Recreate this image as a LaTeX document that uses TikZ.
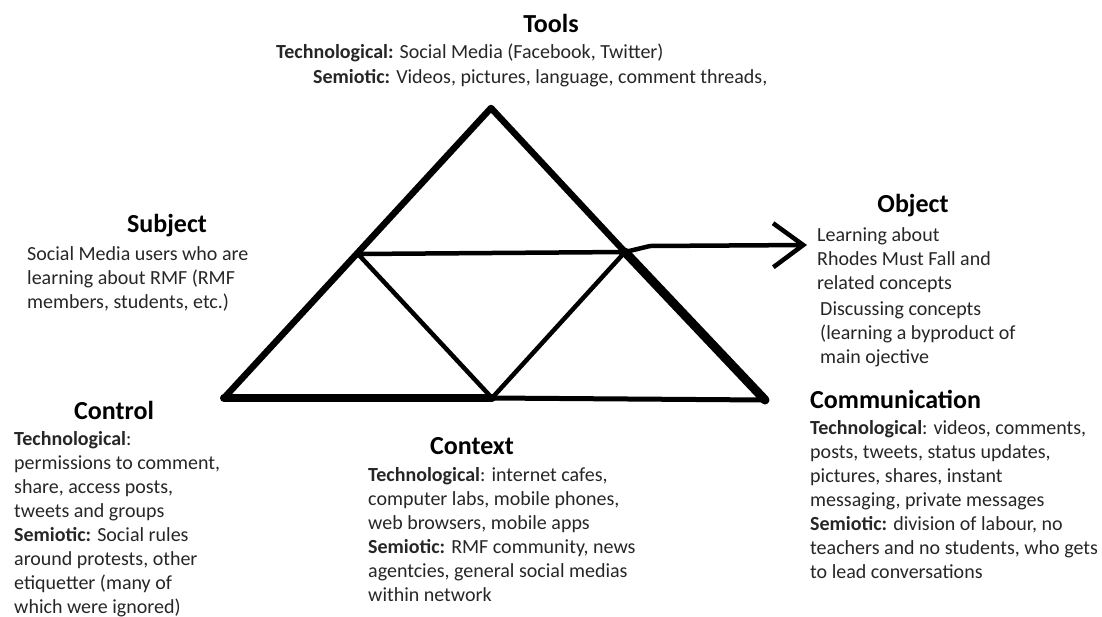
\documentclass[tikz,border=0pt]{standalone}
\usepackage{fontspec}
\setmainfont{Carlito}
\usetikzlibrary{arrows.meta}
\usetikzlibrary{positioning}

\tikzset{
  heading/.style = {font=\fontsize{26}{30}\selectfont\bfseries, inner sep=0pt},
  blocktext/.style = {font=\fontsize{20}{24}\selectfont, align=left, inner sep=0pt, anchor=north west, text=black!85},
  outer/.style = {line width=6.5pt, line cap=round, line join=round},
  inner/.style = {line width=4.5pt, line cap=round}
}

\begin{document}
\begin{tikzpicture}[x=1pt, y=-1pt]
\useasboundingbox (0,0) rectangle (1102,616);

% corners of the triangle
\coordinate (Tools) at (491,108);
\coordinate (Subj) at (358,254);
\coordinate (Obj) at (625,252);
\coordinate (Ctrl) at (224,398);
\coordinate (Ctx) at (492,398);
\coordinate (Comm) at (765,400);
\coordinate (Bend) at (650,246);
\coordinate (Tip) at (807,245);

% triangle
\draw[outer] (Ctrl) -- (Tools) -- (Obj);
\draw[outer, line width=9pt] (Obj) -- (Comm);
\draw[outer, line width=8pt] (Ctrl) -- (Ctx);
\draw[outer, line width=5pt] (Ctx) -- (Comm);
\draw[inner] (Subj) -- (Obj)
  (Subj) -- (Ctx) -- (Obj);
\draw[inner, line join=round, -{Straight Barb[length=30pt, width=44pt, line width=4.5pt]}] (Obj) -- (Bend) -- (Tip);

% Tools
\node[heading] (toolsT) at (551,23) {Tools};
\node[blocktext] (toolsA) at (276,44) {\textbf{Technological:} Social Media (Facebook, Twitter)};
\node[blocktext] (toolsB) at (313,69) {\textbf{Semiotic:} Videos, pictures, language, comment threads,};

% Subject
\node[heading] (subjT) at (167,226) {Subject};
\node[blocktext] (subjA) at (27,246) {Social Media users who are\\learning about RMF (RMF\\members, students, etc.)};

% Object
\node[heading] (objT) at (913,206) {Object};
\node[blocktext] (objA) at (817,227) {Learning about\\Rhodes Must Fall and\\related concepts};
\node[blocktext] (objB) at (820,302) {Discussing concepts\\(learning a byproduct of\\main ojective};

% Control
\node[heading] (ctrlT) at (114,410) {Control};
\node[blocktext] (ctrlA) at (14,431) {\textbf{Technological}:\\permissions to comment,\\share, access posts,\\tweets and groups\\\textbf{Semiotic:} Social rules\\around protests, other\\etiquetter (many of\\which were ignored)};

% Context
\node[heading] (ctxT) at (472,446) {Context};
\node[blocktext] (ctxA) at (368,467) {\textbf{Technological}: internet cafes,\\computer labs, mobile phones,\\web browsers, mobile apps\\\textbf{Semiotic:} RMF community, news\\agentcies, general social medias\\within network};

% Communication
\node[heading, anchor=west] (commT) at (810,399) {Communication};
\node[blocktext] (commA) at (810,420) {\textbf{Technological}: videos, comments,\\posts, tweets, status updates,\\pictures, shares, instant\\messaging, private messages\\\textbf{Semiotic:} division of labour, no\\teachers and no students, who gets\\to lead conversations};

\end{tikzpicture}
\end{document}
